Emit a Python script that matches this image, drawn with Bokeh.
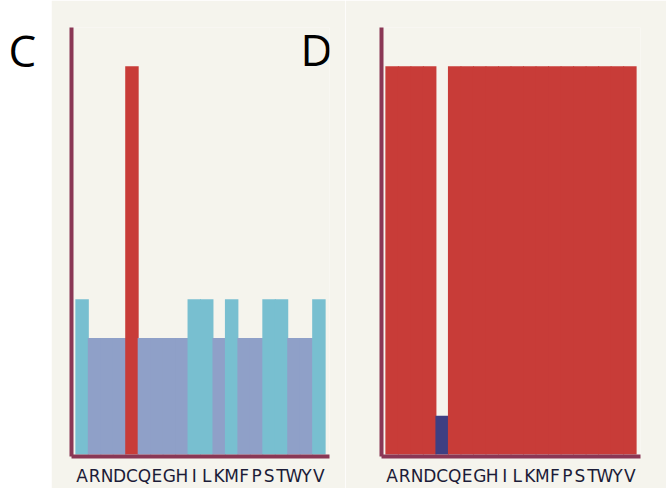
from bokeh.plotting import figure
from bokeh.layouts import row
from bokeh.models import ColumnDataSource, FactorRange, Range1d, Label, FixedTicker
from bokeh.transform import factor_cmap
from bokeh.embed import file_html
from bokeh.resources import INLINE

# ---- data ----
categories = ["A", "R", "N", "D", "C", "Q", "E", "G", "H", "I",
              "L", "K", "M", "F", "P", "S", "T", "W", "Y", "V"]
c_values = [0.4, 0.3, 0.3, 0.3, 1.0, 0.3, 0.3, 0.3, 0.3, 0.4,
            0.4, 0.3, 0.4, 0.3, 0.3, 0.4, 0.4, 0.3, 0.3, 0.4]
c_groups = ["hydrophobic", "other", "other", "other", "selected", "other", "other", "other", "other", "hydrophobic",
            "hydrophobic", "other", "hydrophobic", "other", "other", "hydrophobic", "hydrophobic", "other", "other", "hydrophobic"]
d_values = [1.0, 1.0, 1.0, 1.0, 0.1, 1.0, 1.0, 1.0, 1.0, 1.0,
            1.0, 1.0, 1.0, 1.0, 1.0, 1.0, 1.0, 1.0, 1.0, 1.0]
d_groups = ["selected", "selected", "selected", "selected", "excluded", "selected", "selected", "selected", "selected", "selected",
            "selected", "selected", "selected", "selected", "selected", "selected", "selected", "selected", "selected", "selected"]
panel_labels = ["C", "D"]

group_names = ["selected", "hydrophobic", "other", "excluded"]
group_colors = ["#c83c38", "#78bfd0", "#8fa0c8", "#3e3f82"]

CREAM = "#f5f4ed"
AXIS = "#8a3755"
H = 488


def panel(values, groups, width, left, right):
    src = ColumnDataSource(dict(aa=categories, v=values, g=groups))
    p = figure(width=width, height=H, output_backend="svg", toolbar_location=None,
               x_range=FactorRange(*categories, range_padding=0.35, range_padding_units="absolute"),
               y_range=Range1d(-0.005, 1.1),
               min_border_left=left, min_border_right=right,
               min_border_top=27, min_border_bottom=30)
    cmap = factor_cmap("g", palette=group_colors, factors=group_names)
    p.vbar(x="aa", top="v", width=1.08, source=src, fill_color=cmap, line_color=None)
    p.background_fill_color = CREAM
    p.border_fill_color = CREAM
    p.outline_line_color = None
    p.grid.visible = False
    for ax in (p.xaxis[0], p.yaxis[0]):
        ax.axis_line_color = AXIS
        ax.axis_line_width = 4
        ax.major_tick_line_color = None
        ax.minor_tick_line_color = None
        ax.major_tick_out = 0
        ax.major_tick_in = 0
    p.yaxis.ticker = FixedTicker(ticks=[])
    p.yaxis.major_label_text_font_size = "0px"
    p.xaxis.major_label_standoff = 9
    p.xaxis.major_label_text_font = "DejaVu Sans"
    p.xaxis.major_label_text_font_size = "17px"
    p.xaxis.major_label_text_color = "#1c1c38"
    return p


# label strip
p0 = figure(width=51, height=H, output_backend="svg", toolbar_location=None,
            x_axis_location=None, y_axis_location=None, title=None,
            x_range=Range1d(0, 51), y_range=Range1d(0, H),
            min_border=0)
p0.outline_line_color = None
p0.grid.visible = False
p0.background_fill_color = "white"
p0.border_fill_color = "white"
p0.add_layout(Label(x=8, y=462, text=panel_labels[0], level="overlay",
                    text_font="Open Sans", text_font_size="44px", text_color="black",
                    text_baseline="alphabetic"))

p1 = panel(c_values, c_groups, 294, 20, 16)
p1.add_layout(Label(x=229, y=1.045, x_units="screen", y_units="data", text=panel_labels[1],
                    level="overlay",
                    text_font="Open Sans", text_font_size="44px", text_color="black",
                    text_baseline="alphabetic"))
p2 = panel(d_values, d_groups, 321, 36, 26)

layout = row(p0, p1, p2, spacing=0)
open("out.html", "w").write(file_html(layout, INLINE))
